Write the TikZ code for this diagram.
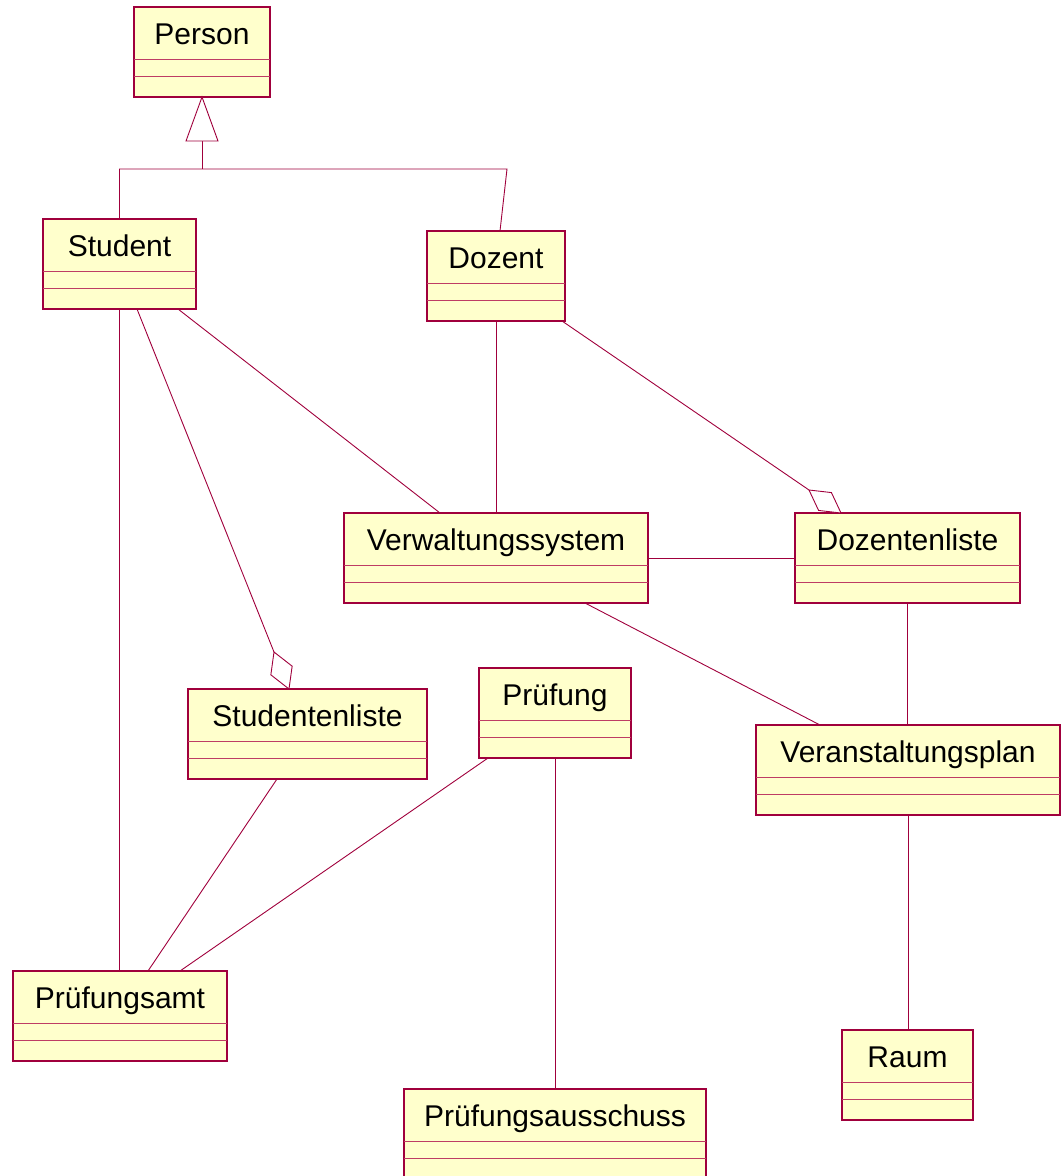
\documentclass[tikz,border=0pt]{standalone}
\usepackage{fontspec}
\setmainfont{Liberation Sans}
\usetikzlibrary{calc}

\definecolor{umlline}{RGB}{160,0,60}
\definecolor{umlsep}{RGB}{190,60,100}
\definecolor{umlfill}{RGB}{255,255,204}

\tikzset{
  classbox/.style={rectangle, draw=umlline, fill=umlfill, line width=1.2pt,
    inner sep=0pt, outer sep=0pt, minimum height=90pt},
  compline/.style={draw=umlsep, line width=1pt},
  classname/.style={inner sep=0pt, font=\fontsize{30}{36}\selectfont},
  assoc/.style={draw=umlline, line width=0.9pt},
  aggdiamond/.style={draw=umlline, line width=0.9pt, fill=white, line join=miter},
}

% class box with name compartment and two empty compartments
% #1 node name, #2 left, #3 top, #4 right, #5 class name
\newcommand{\umlclass}[5]{%
  \node[classbox, anchor=north west, minimum width={(#4-#2)*1pt}] (#1) at (#2,#3) {};
  \draw[compline] ($(#1.north west)+(0,52)$) -- ($(#1.north east)+(0,52)$);
  \draw[compline] ($(#1.north west)+(0,69)$) -- ($(#1.north east)+(0,69)$);
  \node[classname, anchor=base] (#1-label) at ($(#1.north)+(0,37)$) {#5};
}

\begin{document}
\begin{tikzpicture}[x=1pt,y=-1pt]
\useasboundingbox (0,0) rectangle (1061,1176);

\umlclass{person}{134}{7}{270}{Person}
\umlclass{student}{43}{219}{196}{Student}
\umlclass{dozent}{427}{231}{565}{Dozent}
\umlclass{verw}{344}{513}{648}{Verwaltungssystem}
\umlclass{dozliste}{795}{513}{1020}{Dozentenliste}
\umlclass{studliste}{188}{689}{427}{Studentenliste}
\umlclass{pruefung}{479}{668}{631}{Prüfung}
\umlclass{vplan}{756}{725}{1060}{Veranstaltungsplan}
\umlclass{pamt}{13}{971}{227}{Prüfungsamt}
\umlclass{raum}{842}{1030}{973}{Raum}
\umlclass{ausschuss}{404}{1089}{706}{Prüfungsausschuss}

% generalization: Student, Dozent -> Person
\coordinate (gen-base) at ($(person.south)+(0,44)$);
\coordinate (gen-join) at ($(person.south)+(0,72)$);
\coordinate (gen-right) at (507,169);
\draw[assoc] (student.north) |- (gen-right) -- ($(dozent.north)+(4,0)$);
\draw[assoc] (gen-join) -- (gen-base);
\draw[assoc, fill=white] (person.south) -- ($(gen-base)+(-16,0)$)
  -- ($(gen-base)+(16,0)$) -- cycle;

% aggregation: Student -> Studentenliste
\coordinate (sl-tip) at ($(studliste.north)+(-18.5,0)$);
\coordinate (sl-far) at ($(sl-tip)+(-15,-37)$);
\coordinate (sl-mid) at ($(sl-tip)!0.5!(sl-far)$);
\draw[assoc] ($(student.south)+(17.5,0)$) -- (sl-far);
\draw[aggdiamond] (sl-tip) -- ($(sl-mid)!11.5pt!90:(sl-far)$) -- (sl-far)
  -- ($(sl-mid)!11.5pt!-90:(sl-far)$) -- cycle;

% aggregation: Dozent -> Dozentenliste
\coordinate (dl-tip) at ($(dozliste.north)+(-66.5,0)$);
\coordinate (dl-far) at ($(dl-tip)+(-32,-23)$);
\coordinate (dl-mid) at ($(dl-tip)!0.5!(dl-far)$);
\draw[assoc] ($(dozent.south east)+(-3,0)$) -- (dl-far);
\draw[aggdiamond] (dl-tip) -- ($(dl-mid)!11pt!90:(dl-far)$) -- (dl-far)
  -- ($(dl-mid)!11pt!-90:(dl-far)$) -- cycle;

% associations
\draw[assoc] ($(student.south)+(58.5,0)$) -- ($(verw.north)+(-56,0)$);
\draw[assoc] (student.south) -- (student.south |- pamt.north);
\draw[assoc] (dozent.south) -- (dozent.south |- verw.north);
\draw[assoc] (verw.east) -- (dozliste.west);
\draw[assoc] ($(verw.south)+(89,0)$) -- ($(vplan.north)+(-88,0)$);
\draw[assoc] (dozliste.south) -- (dozliste.south |- vplan.north);
\draw[assoc] ($(studliste.south)+(-30.5,0)$) -- ($(pamt.north)+(28,0)$);
\draw[assoc] ($(pruefung.south)+(-67,0)$) -- ($(pamt.north)+(60,0)$);
\draw[assoc] (pruefung.south) -- (pruefung.south |- ausschuss.north);
\draw[assoc] (vplan.south) -- (vplan.south |- raum.north);
\end{tikzpicture}
\end{document}
